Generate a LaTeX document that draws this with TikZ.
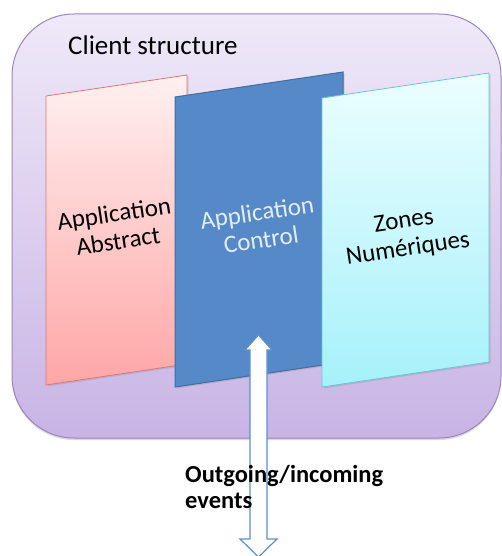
\documentclass[tikz,border=0pt]{standalone}
\usepackage{fontspec}
\setmainfont{Carlito}
\usetikzlibrary{shadows}
\definecolor{outerTop}{HTML}{EFE9F8}
\definecolor{outerBot}{HTML}{C8B4E5}
\definecolor{outerLine}{HTML}{9B86C2}
\definecolor{pinkTop}{HTML}{FFF0F0}
\definecolor{pinkBot}{HTML}{FFA6A6}
\definecolor{pinkLine}{HTML}{DD7777}
\definecolor{blueFill}{HTML}{5689C7}
\definecolor{blueLine}{HTML}{3F6E9F}
\definecolor{cyanTop}{HTML}{ECFEFF}
\definecolor{cyanBot}{HTML}{A6F1FA}
\definecolor{cyanLine}{HTML}{6CC4D8}
\definecolor{ctrlText}{HTML}{E4ECF7}
\definecolor{arrowLine}{HTML}{5B8FD0}
\tikzset{
  paneltext/.style={inner sep=0pt, align=center, rotate=8.5, font=\fontsize{25}{28}\selectfont},
  panelshadow/.style={drop shadow={shadow xshift=1.5pt, shadow yshift=-1.5pt, opacity=0.25}},
}
\begin{document}
\begin{tikzpicture}[x=1pt,y=-1pt]
\useasboundingbox (0,0) rectangle (502,556);
\clip (0,0) rectangle (502,556);
% outer container
\path[top color=outerTop, bottom color=outerBot, draw=outerLine, line width=1pt,
      rounded corners=62pt, drop shadow={shadow xshift=0pt, shadow yshift=-2pt, opacity=0.3}]
  (12,14) rectangle (501,438);
\node[inner sep=0pt, anchor=base west, font=\fontsize{27}{32}\selectfont] (title) at (68,55) {Client structure};
% pink panel
\path[top color=pinkTop, bottom color=pinkBot, draw=pinkLine, line width=0.8pt, panelshadow]
  (46,96) -- (187,75) -- (187,364) -- (46,385) -- cycle;
\node[paneltext] (abstract) at (116,227) {Application\\Abstract};
% blue panel
\path[fill=blueFill, draw=blueLine, line width=1pt, panelshadow]
  (175,97) -- (343,72) -- (343,362) -- (175,387) -- cycle;
\node[paneltext, text=ctrlText] (control) at (259,226) {Application\\Control};
% cyan panel
\path[top color=cyanTop, bottom color=cyanBot, draw=cyanLine, line width=0.8pt, panelshadow]
  (322,98) -- (489,73) -- (489,362) -- (322,387) -- cycle;
\node[paneltext] (zones) at (406,236) {Zones\\Numériques};
% double arrow
\coordinate (arrowtop) at (258.5,335);
\coordinate (arrowbot) at (258.5,557);
\path[fill=white, draw=arrowLine, line width=1.2pt, line join=miter]
  (arrowtop) -- (272,350) -- (267,350) -- (267,539) -- (277,539) -- (arrowbot)
  -- (240,539) -- (250,539) -- (250,350) -- (245,350) -- cycle;
\node[inner sep=0pt, anchor=base west, align=left, font=\bfseries\fontsize{24.5}{26}\selectfont] (events) at (185,508) {Outgoing/incoming\\events};
\end{tikzpicture}
\end{document}
